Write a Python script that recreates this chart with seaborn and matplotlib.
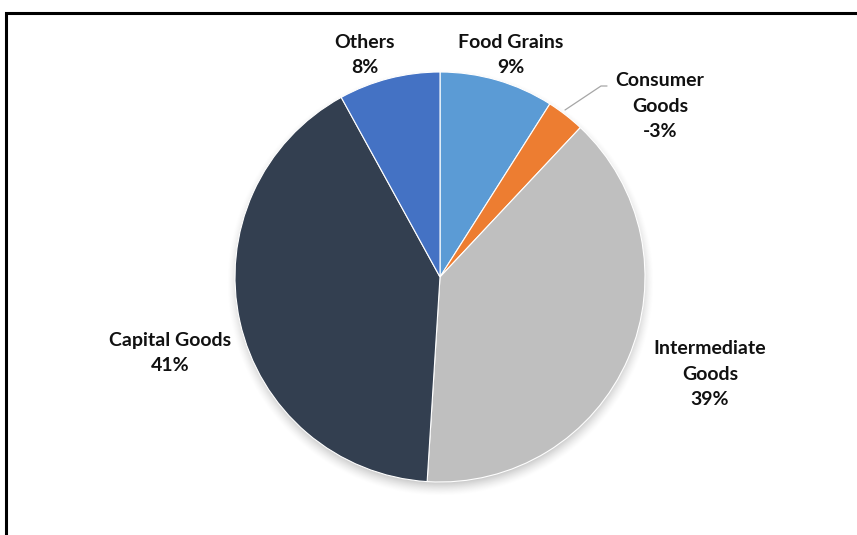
import numpy as np
import matplotlib
matplotlib.use("Agg")
import matplotlib.pyplot as plt
import seaborn as sns

# Share of imports by commodity group (%)
categories = ["Food Grains", "Consumer\nGoods", "Intermediate\nGoods", "Capital Goods", "Others"]
values = [9, -3, 39, 41, 8]
colors = ["#5B9BD5", "#ED7D31", "#BFBFBF", "#333F50", "#4472C4"]

sns.set_theme(style="white")
plt.rcParams["font.family"] = ["Lato", "DejaVu Sans"]

W, H = 857, 535
fig = plt.figure(figsize=(W / 100, H / 100), dpi=100)
ax = fig.add_axes([0, 0, 1, 1])


def py(y):
    """Convert a top-down pixel row to the axes' bottom-up y coordinate."""
    return H - y


cx, cy, R = 440, py(277), 205

# soft drop shadow below the pie
yy, xx = np.mgrid[0:H, 0:W]
d = np.hypot(xx - cx, (H - yy) - (cy - 5))
a = np.clip((R + 9 - d) / 18, 0, 1) ** 1.5 * 0.30
shadow = np.zeros((H, W, 4))
shadow[..., 3] = a
ax.imshow(shadow, extent=(0, W, 0, H), origin="upper", zorder=0)

# wedge sizes are the magnitudes of the shares
sizes = [abs(v) for v in values]
wedges, _ = ax.pie(sizes, colors=colors, startangle=90, counterclock=False,
                   center=(cx, cy), radius=R, frame=True,
                   wedgeprops=dict(edgecolor="white", linewidth=0.8))
for w in wedges:
    w.set_zorder(2)
ax.set_xlim(0, W)
ax.set_ylim(0, H)
ax.set_aspect("equal")
ax.axis("off")

label_pos = [(511, 55), (660, 106), (710, 374), (170, 353), (365, 55)]
for name, v, (x, y) in zip(categories, values, label_pos):
    ax.text(x, py(y), f"{name}\n{v}%", ha="center", va="center", fontsize=14,
            fontweight="bold", color="#111111", linespacing=1.62, zorder=3)

# leader line for the thin consumer goods slice
ax.plot([565, 601, 607], [py(110), py(86), py(86)], color="#A6A6A6", lw=0.9, zorder=3)

# chart frame (left and top edges)
ax.plot([6.5, 6.5, W], [0, py(12.5), py(12.5)], color="black", lw=2.2, zorder=4,
        solid_capstyle="butt", solid_joinstyle="miter")

fig.savefig("out.png", dpi=100)
